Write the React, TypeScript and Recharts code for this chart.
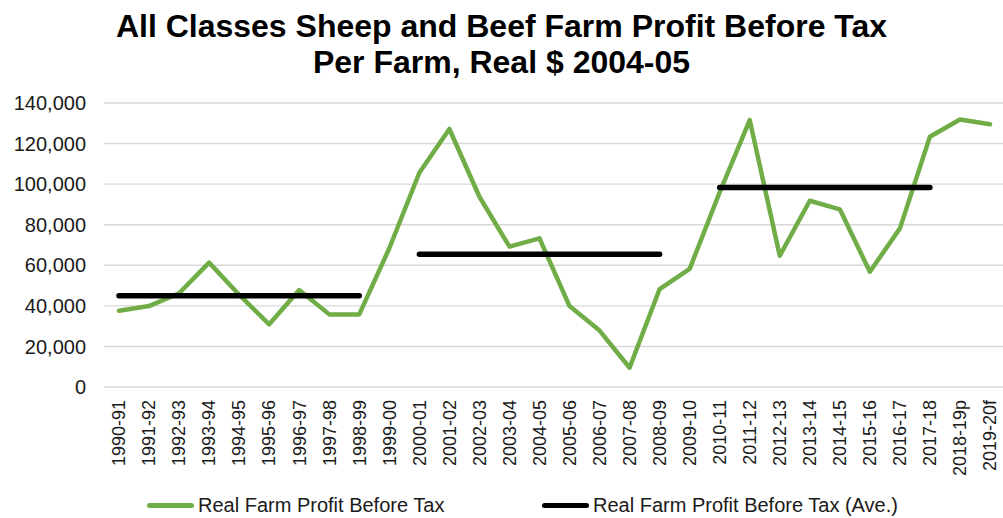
import { LineChart, Line, XAxis, YAxis, CartesianGrid, Legend } from "recharts";

const seasons = [
  "1990-91", "1991-92", "1992-93", "1993-94", "1994-95", "1995-96", "1996-97", "1997-98",
  "1998-99", "1999-00", "2000-01", "2001-02", "2002-03", "2003-04", "2004-05", "2005-06",
  "2006-07", "2007-08", "2008-09", "2009-10", "2010-11", "2011-12", "2012-13", "2013-14",
  "2014-15", "2015-16", "2016-17", "2017-18", "2018-19p", "2019-20f",
];

const profit = [
  37600, 39900, 46200, 61300, 45500, 30900, 47800, 35800, 35800, 68400,
  105600, 127200, 93800, 69200, 73300, 39900, 27800, 9500, 48300, 58200,
  96000, 131600, 64700, 91800, 87600, 56800, 78200, 123400, 131900, 129500,
];

// period averages, null where no average is drawn
const average = [
  45000, 45000, 45000, 45000, 45000, 45000, 45000, 45000, 45000, null,
  65500, 65500, 65500, 65500, 65500, 65500, 65500, 65500, 65500, null,
  98400, 98400, 98400, 98400, 98400, 98400, 98400, 98400, null, null,
];

const yTicks = [0, 20000, 40000, 60000, 80000, 100000, 120000, 140000];

const data = seasons.map((s, i) => ({ season: s, profit: profit[i], avg: average[i] }));

const FONT = "'Liberation Sans', Arial, sans-serif";

function SeasonTick(props: any) {
  const { x, y, payload } = props;
  return (
    <g transform={`translate(${x},${y})`}>
      <text
        x={0}
        y={0}
        dy="0.35em"
        textAnchor="end"
        transform="rotate(-90)"
        fontSize={18}
        fontFamily={FONT}
        fill="#1a1a1a"
      >
        {payload.value}
      </text>
    </g>
  );
}

function LegendBox() {
  const item = (left: number, color: string, label: string) => (
    <div style={{ position: "absolute", left, top: 0, height: 24, display: "flex", alignItems: "center" }}>
      <div style={{ width: 47, height: 5, borderRadius: 3, background: color, marginRight: 4 }} />
      <span style={{ fontSize: 20, fontFamily: FONT, color: "#1a1a1a", whiteSpace: "nowrap" }}>{label}</span>
    </div>
  );
  return (
    <div style={{ position: "relative", width: 1003, height: 24 }}>
      {item(147, "#70ad47", "Real Farm Profit Before Tax")}
      {item(542, "#000000", "Real Farm Profit Before Tax (Ave.)")}
    </div>
  );
}

export default function App() {
  return (
    <div style={{ position: "absolute", left: 0, top: 0, width: 1003, height: 518, background: "#fff" }}>
      <div
        style={{
          position: "absolute",
          left: 0,
          top: 8,
          width: 1003,
          textAlign: "center",
          fontFamily: FONT,
          fontWeight: "bold",
          fontSize: 32,
          lineHeight: "36px",
          color: "#000",
        }}
      >
        All Classes Sheep and Beef Farm Profit Before Tax
        <br />
        Per Farm, Real $ 2004-05
      </div>
      <LineChart width={1003} height={518} data={data} margin={{ top: 103, right: 0, bottom: 31, left: 0 }}>
        <CartesianGrid vertical={false} stroke="#d9d9d9" strokeWidth={1.4} />
        <XAxis
          dataKey="season"
          interval={0}
          height={100}
          axisLine={false}
          tickLine={false}
          tick={<SeasonTick />}
          tickSize={0}
          tickMargin={13}
          padding={{ left: 15, right: 13 }}
        />
        <YAxis
          domain={[0, 140000]}
          ticks={yTicks}
          width={104}
          axisLine={false}
          tickLine={false}
          tickSize={0}
          tickMargin={18}
          tickFormatter={(v) => Number(v).toLocaleString("en-US")}
          tick={{ fontSize: 20, fontFamily: FONT, fill: "#1a1a1a" }}
        />
        <Legend
          layout="horizontal"
          verticalAlign="middle"
          align="center"
          wrapperStyle={{ top: 493, left: 0, width: 1003 }}
          content={() => <LegendBox />}
        />
        <Line
          dataKey="profit"
          name="Real Farm Profit Before Tax"
          stroke="#70ad47"
          strokeWidth={4.5}
          strokeLinejoin="round"
          strokeLinecap="round"
          dot={false}
          activeDot={false}
          type="linear"
          isAnimationActive={false}
        />
        <Line
          dataKey="avg"
          name="Real Farm Profit Before Tax (Ave.)"
          stroke="#000000"
          strokeWidth={5.5}
          strokeLinecap="round"
          dot={false}
          activeDot={false}
          type="linear"
          connectNulls={false}
          isAnimationActive={false}
        />
      </LineChart>
    </div>
  );
}
